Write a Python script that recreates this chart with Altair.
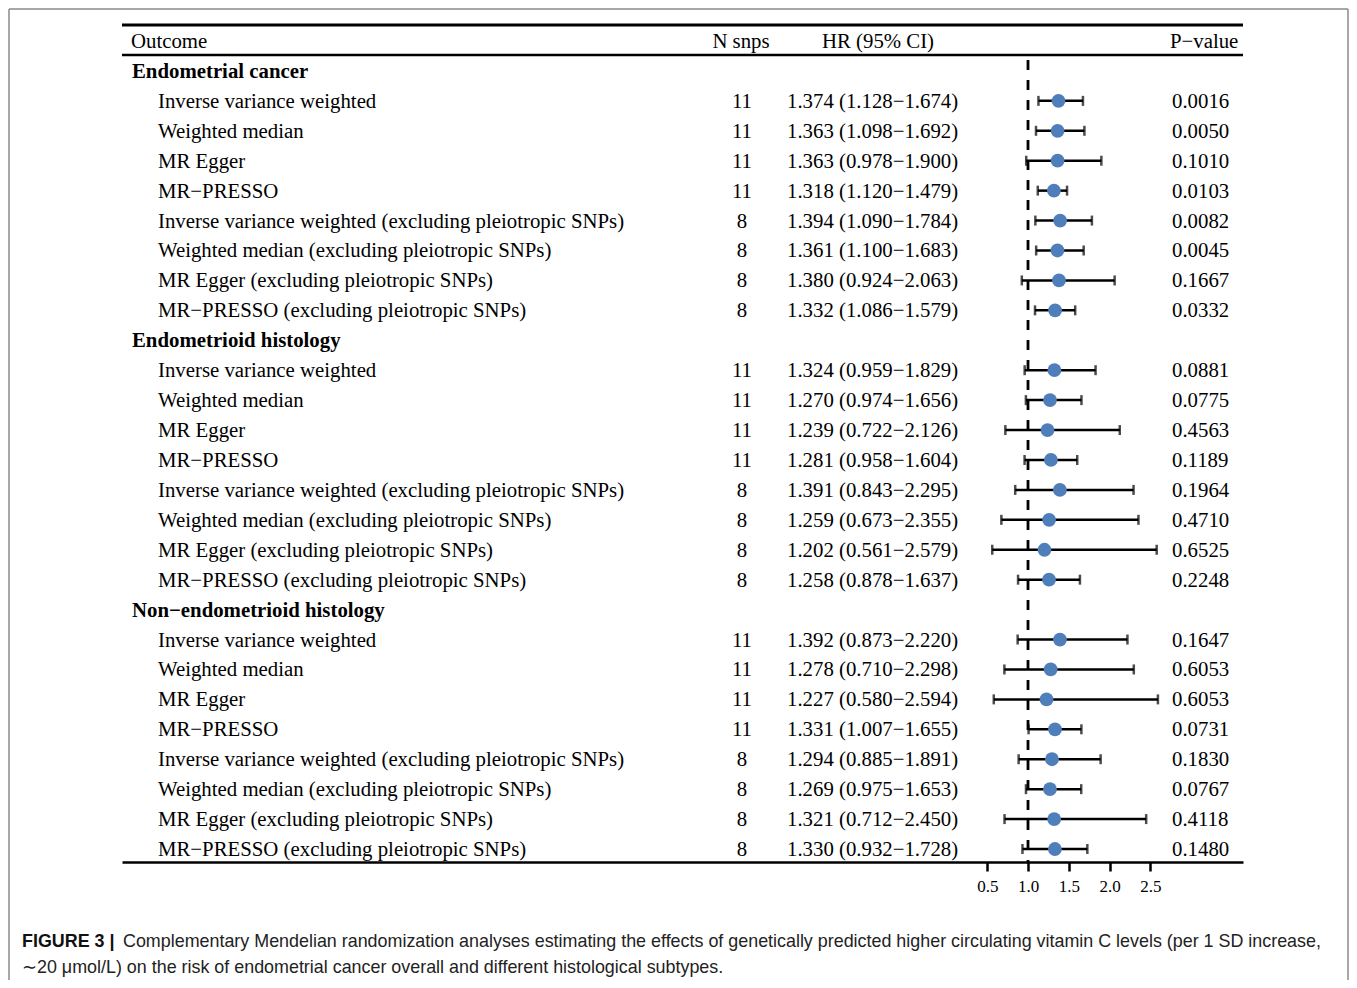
import altair as alt
import pandas as pd

# ---------------- data ----------------
groups = ["Endometrial cancer", "Endometrioid histology", "Non\u2212endometrioid histology"]
methods = [
    "Inverse variance weighted",
    "Weighted median",
    "MR Egger",
    "MR\u2212PRESSO",
    "Inverse variance weighted (excluding pleiotropic SNPs)",
    "Weighted median (excluding pleiotropic SNPs)",
    "MR Egger (excluding pleiotropic SNPs)",
    "MR\u2212PRESSO (excluding pleiotropic SNPs)",
]
n_snps = [11, 11, 11, 11, 8, 8, 8, 8]

hr_values = [
    1.374, 1.363, 1.363, 1.318, 1.394, 1.361, 1.380, 1.332,
    1.324, 1.270, 1.239, 1.281, 1.391, 1.259, 1.202, 1.258,
    1.392, 1.278, 1.227, 1.331, 1.294, 1.269, 1.321, 1.330,
]
ci_lower = [
    1.128, 1.098, 0.978, 1.120, 1.090, 1.100, 0.924, 1.086,
    0.959, 0.974, 0.722, 0.958, 0.843, 0.673, 0.561, 0.878,
    0.873, 0.710, 0.580, 1.007, 0.885, 0.975, 0.712, 0.932,
]
ci_upper = [
    1.674, 1.692, 1.900, 1.479, 1.784, 1.683, 2.063, 1.579,
    1.829, 1.656, 2.126, 1.604, 2.295, 2.355, 2.579, 1.637,
    2.220, 2.298, 2.594, 1.655, 1.891, 1.653, 2.450, 1.728,
]
p_values = [
    "0.0016", "0.0050", "0.1010", "0.0103", "0.0082", "0.0045", "0.1667", "0.0332",
    "0.0881", "0.0775", "0.4563", "0.1189", "0.1964", "0.4710", "0.6525", "0.2248",
    "0.1647", "0.6053", "0.6053", "0.0731", "0.1830", "0.0767", "0.4118", "0.1480",
]
header_labels = ["Outcome", "N snps", "HR (95% CI)", "P\u2212value"]
tick_values = [0.5, 1.0, 1.5, 2.0, 2.5]
reference_value = [1.0]
caption_bold = "FIGURE 3 |"
caption_line1 = ("Complementary Mendelian randomization analyses estimating the effects of "
                 "genetically predicted higher circulating vitamin C levels (per 1 SD increase,")
caption_line2 = ("\u223c20 \u03bcmol/L) on the risk of endometrial cancer overall and different "
                 "histological subtypes.")

# ---------------- tables ----------------
group_rows, est_rows = [], []
k = 0
for g, gname in enumerate(groups):
    base = g * (len(methods) + 1)
    group_rows.append({"row": base, "label": gname})
    for i, m in enumerate(methods):
        est_rows.append({
            "row": base + 1 + i,
            "label": m,
            "n": str(n_snps[i]),
            "hr": hr_values[k],
            "lo": ci_lower[k],
            "hi": ci_upper[k],
            "hrtext": f"{hr_values[k]:.3f} ({ci_lower[k]:.3f}\u2212{ci_upper[k]:.3f})",
            "p": p_values[k],
        })
        k += 1
group_df = pd.DataFrame(group_rows)
est_df = pd.DataFrame(est_rows)
header_df = pd.DataFrame({"row": [-1]})
ref_df = pd.DataFrame({"ref": reference_value})
one = pd.DataFrame({"k": [0]})

W, H = 1121, 837
SERIF = "Liberation Serif"
FS = 20.8
DY = 1

xscale = alt.Scale(domain=[-10.117, 3.638], nice=False, zero=False)
yscale = alt.Scale(domain=[-1.535, 26.434], nice=False, zero=False, reverse=True)
xaxis = alt.Axis(values=tick_values, format=".1f", title=None, grid=False,
                 domainColor="black", domainWidth=2.5, tickColor="black", tickWidth=2.5,
                 tickSize=9, labelFont=SERIF, labelFontSize=17, labelColor="black",
                 labelPadding=7, labelFlush=False, labelOverlap=False)
Y = alt.Y("row:Q", scale=yscale, axis=None)

ci = alt.Chart(est_df).mark_rule(strokeWidth=2.5, color="black").encode(
    x=alt.X("lo:Q", scale=xscale, axis=xaxis), x2="hi:Q", y=Y)
cap_lo = alt.Chart(est_df).mark_tick(orient="vertical", size=10, thickness=2.5, color="black").encode(
    x=alt.X("lo:Q", scale=xscale, axis=xaxis), y=Y)
cap_hi = alt.Chart(est_df).mark_tick(orient="vertical", size=10, thickness=2.5, color="black").encode(
    x=alt.X("hi:Q", scale=xscale, axis=xaxis), y=Y)
pts = alt.Chart(est_df).mark_circle(size=190, color="#4F7FBA", opacity=1).encode(
    x=alt.X("hr:Q", scale=xscale, axis=xaxis), y=Y)
refline = alt.Chart(ref_df).mark_rule(strokeWidth=2.8, color="black", strokeDash=[10, 10]).encode(
    x=alt.X("ref:Q", scale=xscale, axis=xaxis), y=alt.value(35), y2=alt.value(837))

def txt(df, field, xpx, align="left", weight="normal"):
    return alt.Chart(df).mark_text(align=align, baseline="middle", font=SERIF, fontSize=FS, dy=DY,
                                   fontWeight=weight, color="black").encode(
        x=alt.value(xpx), y=Y, text=f"{field}:N")

group_txt = txt(group_df, "label", 10, weight="bold")
method_txt = txt(est_df, "label", 36)
n_txt = txt(est_df, "n", 620, align="center")
hr_txt = txt(est_df, "hrtext", 665)
p_txt = txt(est_df, "p", 1050)

def head(label, xpx, align):
    return alt.Chart(header_df).mark_text(align=align, baseline="middle", font=SERIF, fontSize=FS,
                                          dy=DY, color="black", text=label).encode(x=alt.value(xpx), y=Y)

headers = [head(header_labels[0], 9, "left"), head(header_labels[1], 619, "center"),
           head(header_labels[2], 756, "center"), head(header_labels[3], 1048, "left")]

top_rule = alt.Chart(one).mark_rule(strokeWidth=3, color="black").encode(
    x=alt.value(0), x2=alt.value(W), y=alt.value(0))
sub_rule = alt.Chart(one).mark_rule(strokeWidth=2.5, color="black").encode(
    x=alt.value(0), x2=alt.value(W), y=alt.value(30))

bcol = "#8a8a8a"
border_l = alt.Chart(one).mark_rule(strokeWidth=1.5, color=bcol).encode(
    x=alt.value(-113), y=alt.value(-16), y2=alt.value(960))
border_t = alt.Chart(one).mark_rule(strokeWidth=1.5, color=bcol).encode(
    x=alt.value(-113), x2=alt.value(1226), y=alt.value(-16))
border_r = alt.Chart(one).mark_rule(strokeWidth=1.5, color=bcol).encode(
    x=alt.value(1226), y=alt.value(-16), y2=alt.value(960))

CFS = 17.9
cap_b = alt.Chart(one).mark_text(align="left", baseline="middle", font="Liberation Sans", fontSize=CFS,
                                 fontWeight="bold", color="#111", text=caption_bold).encode(
    x=alt.value(-100), y=alt.value(917))
cap_1 = alt.Chart(one).mark_text(align="left", baseline="middle", font="Liberation Sans", fontSize=CFS,
                                 color="#222", text=caption_line1).encode(
    x=alt.value(1), y=alt.value(917))
cap_2 = alt.Chart(one).mark_text(align="left", baseline="middle", font="Liberation Sans", fontSize=CFS,
                                 color="#222", text=caption_line2).encode(
    x=alt.value(-100), y=alt.value(943))

chart = alt.layer(
    refline, ci, cap_lo, cap_hi, pts,
    group_txt, method_txt, n_txt, hr_txt, p_txt, *headers,
    top_rule, sub_rule, border_l, border_t, border_r, cap_b, cap_1, cap_2,
).properties(
    width=W, height=H,
    padding={"left": 114, "top": 17, "right": 106, "bottom": 118},
    autosize=alt.AutoSizeParams(type="none"),
).configure_view(stroke=None)

chart.save("out.html", embed_options={"renderer": "svg", "actions": False})
